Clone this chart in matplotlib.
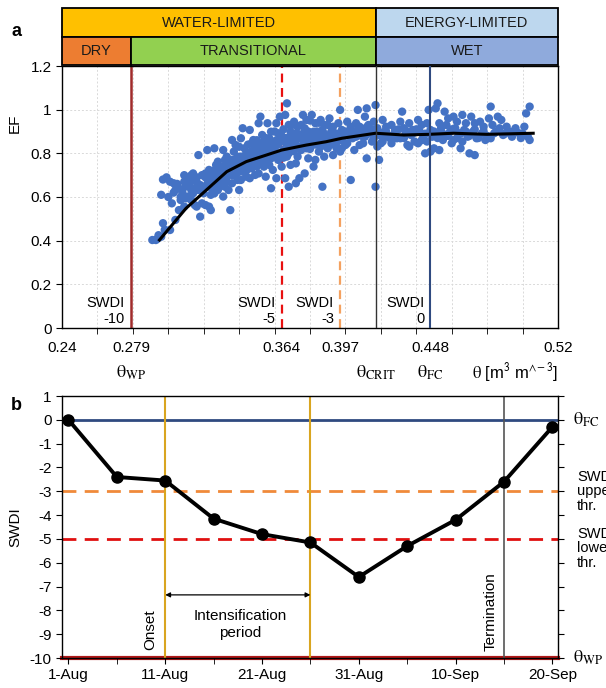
import matplotlib
matplotlib.use("Agg")
import matplotlib.pyplot as plt
import matplotlib.transforms as mtransforms
from matplotlib.patches import Rectangle
import numpy as np
import pandas as pd

plt.rcParams['font.family'] = ['Liberation Sans', 'DejaVu Sans']
plt.rcParams['mathtext.fontset'] = 'stix'

# ---------------- data: panel a ----------------
theta_pts = [
    0.291, 0.293, 0.294, 0.2945,
    0.296, 0.297, 0.298, 0.296, 0.297, 0.299,
    0.301, 0.303, 0.302, 0.304, 0.301, 0.304,
    0.306, 0.308, 0.307, 0.309, 0.306, 0.309, 0.308, 0.310,
    0.311, 0.312, 0.313, 0.314, 0.311, 0.313, 0.315, 0.314, 0.312,
    0.317, 0.316, 0.318, 0.319, 0.317, 0.320, 0.316, 0.318, 0.319,
    0.322, 0.321, 0.323, 0.324, 0.322, 0.325, 0.321, 0.323, 0.324,
    0.326, 0.328, 0.327, 0.329, 0.326, 0.330, 0.327, 0.329, 0.328, 0.326,
    0.331, 0.333, 0.332, 0.334, 0.331, 0.335, 0.333, 0.332, 0.334, 0.331, 0.335,
    0.336, 0.338, 0.337, 0.339, 0.336, 0.340, 0.338, 0.337, 0.339, 0.336, 0.340,
    0.342, 0.341, 0.343, 0.344, 0.341, 0.345, 0.343, 0.342, 0.344, 0.341,
    0.346, 0.348, 0.347, 0.349, 0.346, 0.350, 0.348, 0.347, 0.349, 0.346,
    0.352, 0.351, 0.353, 0.354, 0.351, 0.355, 0.353, 0.352, 0.354, 0.351, 0.355,
    0.356, 0.358, 0.357, 0.359, 0.356, 0.360, 0.358, 0.357, 0.359, 0.358,
    0.361, 0.363, 0.362, 0.364, 0.361, 0.365, 0.363, 0.362, 0.364, 0.361,
    0.367, 0.366, 0.368, 0.369, 0.366, 0.370, 0.368, 0.367, 0.369, 0.366, 0.368,
    0.371, 0.373, 0.372, 0.374, 0.371, 0.375, 0.373, 0.372, 0.374, 0.372,
    0.376, 0.378, 0.377, 0.379, 0.376, 0.380, 0.378, 0.377, 0.379,
    0.381, 0.383, 0.382, 0.384, 0.381, 0.385, 0.383, 0.382,
    0.386, 0.388, 0.387, 0.389, 0.386, 0.390, 0.388, 0.387,
    0.391, 0.393, 0.392, 0.394, 0.391, 0.395, 0.393,
    0.397, 0.396, 0.398, 0.399, 0.396, 0.400, 0.398, 0.397,
    0.401, 0.403, 0.402, 0.404, 0.401, 0.405, 0.403,
    0.407, 0.406, 0.408, 0.409, 0.406, 0.410, 0.408,
    0.412, 0.411, 0.413, 0.414, 0.411, 0.415, 0.412,
    0.417, 0.416, 0.418, 0.419, 0.416, 0.420, 0.418, 0.419, 0.417,
    0.421, 0.423, 0.422, 0.424, 0.421,
    0.426, 0.428, 0.427, 0.429, 0.426,
    0.432, 0.431, 0.433, 0.434, 0.431, 0.435,
    0.436, 0.438, 0.437, 0.439, 0.436,
    0.441, 0.443, 0.442, 0.444, 0.441, 0.445,
    0.447, 0.446, 0.448, 0.449, 0.446, 0.450, 0.448,
    0.452, 0.451, 0.453, 0.454, 0.451, 0.455, 0.453,
    0.456, 0.458, 0.457, 0.459, 0.456, 0.460,
    0.461, 0.463, 0.462, 0.464, 0.461, 0.465,
    0.466, 0.468, 0.467, 0.469, 0.466, 0.470,
    0.471, 0.473, 0.472, 0.474, 0.473,
    0.476, 0.478, 0.477, 0.479,
    0.482, 0.481, 0.483, 0.484, 0.482,
    0.486, 0.488, 0.487, 0.489,
    0.491, 0.493, 0.494,
    0.496, 0.498,
    0.502, 0.504, 0.501, 0.503, 0.504,
]
ef_pts = [
    0.403, 0.403, 0.410, 0.425,
    0.418, 0.480, 0.450, 0.610, 0.680, 0.690,
    0.670, 0.663, 0.571, 0.632, 0.449, 0.495,
    0.640, 0.632, 0.586, 0.556, 0.540, 0.700, 0.617, 0.594,
    0.670, 0.647, 0.632, 0.617, 0.602, 0.586, 0.563, 0.708, 0.686,
    0.792, 0.670, 0.655, 0.640, 0.632, 0.617, 0.556, 0.510, 0.571,
    0.815, 0.708, 0.724, 0.678, 0.647, 0.632, 0.563, 0.556, 0.540,
    0.823, 0.762, 0.747, 0.724, 0.701, 0.693, 0.670, 0.647, 0.632, 0.617,
    0.815, 0.785, 0.770, 0.754, 0.739, 0.716, 0.693, 0.647, 0.632, 0.602, 0.540,
    0.861, 0.838, 0.808, 0.785, 0.770, 0.754, 0.724, 0.701, 0.678, 0.663, 0.632,
    0.915, 0.869, 0.823, 0.800, 0.785, 0.762, 0.739, 0.716, 0.693, 0.678,
    0.907, 0.861, 0.846, 0.823, 0.800, 0.777, 0.754, 0.731, 0.701, 0.686,
    0.968, 0.938, 0.884, 0.854, 0.831, 0.808, 0.785, 0.762, 0.739, 0.708, 0.693,
    0.938, 0.899, 0.869, 0.846, 0.823, 0.800, 0.777, 0.747, 0.724, 0.640,
    0.938, 0.968, 0.892, 0.861, 0.838, 0.815, 0.792, 0.770, 0.739, 0.686,
    1.029, 0.976, 0.930, 0.899, 0.869, 0.846, 0.823, 0.785, 0.747, 0.686, 0.647,
    0.945, 0.922, 0.892, 0.869, 0.846, 0.815, 0.785, 0.754, 0.686, 0.663,
    0.976, 0.953, 0.915, 0.876, 0.861, 0.838, 0.823, 0.708, 0.777,
    0.976, 0.938, 0.899, 0.869, 0.838, 0.808, 0.770, 0.739,
    0.953, 0.930, 0.907, 0.876, 0.854, 0.823, 0.785, 0.647,
    0.960, 0.922, 0.899, 0.876, 0.846, 0.823, 0.792,
    0.999, 0.938, 0.907, 0.884, 0.861, 0.838, 0.823, 0.808,
    0.945, 0.922, 0.892, 0.869, 0.846, 0.815, 0.678,
    0.999, 0.938, 0.922, 0.899, 0.876, 0.846, 0.838,
    1.006, 0.968, 0.930, 0.907, 0.876, 0.854, 0.777,
    1.021, 0.945, 0.915, 0.892, 0.869, 0.846, 0.831, 0.770, 0.647,
    0.953, 0.922, 0.899, 0.876, 0.854,
    0.930, 0.907, 0.884, 0.869, 0.846,
    0.991, 0.945, 0.915, 0.892, 0.869, 0.838,
    0.938, 0.907, 0.884, 0.854, 0.831,
    0.953, 0.930, 0.899, 0.876, 0.846, 0.800,
    0.999, 0.938, 0.907, 0.876, 0.854, 0.823, 0.808,
    1.029, 1.006, 0.938, 0.915, 0.892, 0.861, 0.815,
    0.991, 0.960, 0.930, 0.899, 0.876, 0.846,
    0.968, 0.945, 0.915, 0.892, 0.861, 0.823,
    0.976, 0.938, 0.907, 0.876, 0.854, 0.800,
    0.968, 0.938, 0.899, 0.869, 0.792,
    0.945, 0.922, 0.892, 0.861,
    1.014, 0.960, 0.930, 0.892, 0.869,
    0.968, 0.953, 0.915, 0.884,
    0.922, 0.899, 0.876,
    0.915, 0.892,
    0.983, 1.014, 0.922, 0.876, 0.861,
]
# extra points read from the densest part of the cloud
theta_pts_dense = [
    0.319, 0.321, 0.324, 0.326, 0.327, 0.329, 0.331, 0.332, 0.334, 0.335,
    0.337, 0.338, 0.339, 0.340, 0.342, 0.343, 0.345, 0.346, 0.347, 0.349,
    0.350, 0.351, 0.352, 0.353, 0.354, 0.356, 0.357, 0.358, 0.360, 0.361,
    0.362, 0.364, 0.366, 0.367, 0.369, 0.370, 0.372, 0.373, 0.375, 0.376,
    0.378, 0.379, 0.381, 0.382, 0.384, 0.385, 0.387, 0.388, 0.390, 0.392,
    0.393, 0.395, 0.396, 0.398, 0.400, 0.402, 0.404, 0.405, 0.407, 0.409,
    0.410, 0.412, 0.413, 0.415, 0.418, 0.420, 0.423, 0.425, 0.428, 0.430,
    0.433, 0.435, 0.438, 0.440, 0.443, 0.445, 0.450, 0.452, 0.455, 0.458,
    0.460, 0.463, 0.465, 0.468, 0.470, 0.473, 0.475, 0.478, 0.480, 0.485,
    0.490, 0.495, 0.500, 0.499,
    0.300, 0.303, 0.305, 0.307, 0.310, 0.312, 0.314, 0.315, 0.316, 0.313,
    0.309, 0.322, 0.324, 0.327, 0.330, 0.333, 0.336, 0.339, 0.341, 0.344,
    0.347, 0.350, 0.353, 0.356, 0.359, 0.362, 0.365, 0.368, 0.371, 0.374,
    0.377, 0.380, 0.383, 0.386, 0.389, 0.392, 0.395, 0.340, 0.345, 0.350,
    0.355, 0.360, 0.365, 0.370, 0.375, 0.380, 0.385, 0.390,
]
ef_pts_dense = [
    0.70, 0.69, 0.70, 0.72, 0.73, 0.70, 0.72, 0.73, 0.74, 0.76,
    0.75, 0.77, 0.74, 0.78, 0.76, 0.78, 0.79, 0.77, 0.81, 0.79,
    0.80, 0.82, 0.80, 0.83, 0.81, 0.84, 0.82, 0.85, 0.83, 0.86,
    0.84, 0.88, 0.85, 0.87, 0.86, 0.88, 0.86, 0.89, 0.87, 0.89,
    0.86, 0.90, 0.88, 0.86, 0.90, 0.88, 0.87, 0.89, 0.86, 0.88,
    0.90, 0.87, 0.89, 0.86, 0.90, 0.88, 0.90, 0.88, 0.91, 0.88,
    0.90, 0.92, 0.89, 0.91, 0.90, 0.88, 0.90, 0.87, 0.89, 0.91,
    0.87, 0.90, 0.89, 0.91, 0.86, 0.89, 0.90, 0.87, 0.89, 0.88,
    0.91, 0.87, 0.89, 0.90, 0.88, 0.91, 0.87, 0.90, 0.88, 0.90,
    0.89, 0.90, 0.89, 0.87,
    0.60, 0.62, 0.66, 0.60, 0.65, 0.66, 0.68, 0.64, 0.69, 0.70,
    0.67, 0.66, 0.61, 0.64, 0.66, 0.67, 0.70, 0.71, 0.73, 0.72,
    0.75, 0.74, 0.76, 0.77, 0.79, 0.80, 0.78, 0.80, 0.81, 0.83,
    0.84, 0.82, 0.84, 0.83, 0.85, 0.84, 0.85, 0.83, 0.84, 0.86,
    0.87, 0.90, 0.91, 0.93, 0.93, 0.95, 0.94, 0.93,
]
curve_theta = [0.295, 0.310, 0.333, 0.344, 0.364, 0.378, 0.389, 0.398,
               0.417, 0.433, 0.447, 0.461, 0.480, 0.506]
curve_ef = [0.403, 0.548, 0.716, 0.762, 0.815, 0.838, 0.853, 0.869,
            0.892, 0.884, 0.887, 0.892, 0.887, 0.892]

theta_wp = 0.279
theta_swdi5 = 0.364
theta_swdi3 = 0.397
theta_crit = 0.417
theta_fc = 0.448
theta_ticks = [0.24, 0.279, 0.364, 0.397, 0.448, 0.52]

# ---------------- data: panel b ----------------
dates = ['2019-08-01', '2019-08-06', '2019-08-11', '2019-08-16', '2019-08-21',
         '2019-08-26', '2019-08-31', '2019-09-05', '2019-09-10', '2019-09-15',
         '2019-09-20']
swdi = [0.0, -2.4, -2.55, -4.15, -4.8, -5.15, -6.6, -5.3, -4.2, -2.6, -0.3]
onset_date = '2019-08-11'
intens_end_date = '2019-08-26'
termination_date = '2019-09-15'
date_labels = ['1-Aug', '11-Aug', '21-Aug', '31-Aug', '10-Sep', '20-Sep']
label_dates = ['2019-08-01', '2019-08-11', '2019-08-21', '2019-08-31',
               '2019-09-10', '2019-09-20']

# ---------------- figure ----------------
fig = plt.figure(figsize=(6.06, 6.88), dpi=100)
W, H = 606, 688

def ax_rect(l, t, r, b):
    return [l / W, 1 - b / H, (r - l) / W, (b - t) / H]

ax1 = fig.add_axes(ax_rect(62, 66, 558, 328))
ax1.set_xlim(0.24, 0.52)
ax1.set_ylim(0, 1.2)

for gx in np.arange(0.26, 0.52, 0.02):
    ax1.axvline(gx, color='#d9d9d9', lw=0.7, ls=(0, (2, 2)), zorder=0)
for gy in np.arange(0.2, 1.2, 0.2):
    ax1.axhline(gy, color='#d9d9d9', lw=0.7, ls=(0, (2, 2)), zorder=0)

ax1.scatter(theta_pts + theta_pts_dense, ef_pts + ef_pts_dense, s=36,
            color='#4472C4', edgecolors='none', zorder=2)
ax1.plot(curve_theta, curve_ef, color='black', lw=2.2, zorder=3)

ax1.axvline(theta_wp, color='#A02B2B', lw=1.8, zorder=1)
ax1.axvline(theta_swdi5, color='#E81010', lw=1.6, ls=(0, (4, 2.5)), zorder=1)
ax1.axvline(theta_swdi3, color='#F4A15F', lw=1.6, ls=(0, (4, 2.5)), zorder=1)
ax1.axvline(theta_crit, color='#333333', lw=1.0, zorder=4)
ax1.axvline(theta_fc, color='#2F4A80', lw=1.5, zorder=4)

ax1.set_xticks(theta_ticks)
ax1.set_xticklabels(['0.24', '0.279', '0.364', '0.397', '0.448', '0.52'])
ax1.set_xticks(np.arange(0.24, 0.521, 0.02), minor=True)
ax1.tick_params(axis='x', which='major', length=0, labelsize=11, pad=9)
ax1.tick_params(axis='x', which='minor', length=4, direction='out')
ax1.set_yticks(np.arange(0, 1.21, 0.2))
ax1.set_yticklabels(['0', '0.2', '0.4', '0.6', '0.8', '1', '1.2'])
ax1.tick_params(axis='y', length=4, direction='out', labelsize=11)
for sp in ax1.spines.values():
    sp.set_linewidth(1.0)

# header boxes
trans = mtransforms.blended_transform_factory(ax1.transData, ax1.transAxes)
r1_b, r1_t = 1.111, 1.221
r2_b, r2_t = 1.004, 1.111
boxes = [
    (0.24, theta_crit, r1_b, r1_t, '#FFC000', 'WATER-LIMITED'),
    (theta_crit, 0.52, r1_b, r1_t, '#BDD7EE', 'ENERGY-LIMITED'),
    (0.24, theta_wp, r2_b, r2_t, '#ED7D31', 'DRY'),
    (theta_wp, theta_crit, r2_b, r2_t, '#92D050', 'TRANSITIONAL'),
    (theta_crit, 0.52, r2_b, r2_t, '#8FAADC', 'WET'),
]
for x0, x1, y0, y1, c, lab in boxes:
    ax1.add_patch(Rectangle((x0, y0), x1 - x0, y1 - y0, transform=trans,
                            facecolor=c, edgecolor='black', lw=1.3, clip_on=False))
    ax1.text((x0 + x1) / 2, (y0 + y1) / 2, lab, transform=trans, ha='center',
             va='center', fontsize=10.5, color='#1a1a1a')

for th, lab in [(theta_wp, 'SWDI\n-10'), (theta_swdi5, 'SWDI\n-5'),
                (theta_swdi3, 'SWDI\n-3'), (theta_fc, 'SWDI\n0')]:
    ax1.text(th - 0.0035, 0.078, lab, ha='right', va='center', fontsize=10.5,
             linespacing=1.15, multialignment='right')

ax1.text(theta_wp, -0.205, r'$\mathrm{\theta}_{\mathrm{WP}}$', ha='center', va='center', fontsize=13)
ax1.text(theta_crit, -0.205, r'$\mathrm{\theta}_{\mathrm{CRIT}}$', ha='center', va='center', fontsize=13)
ax1.text(theta_fc, -0.205, r'$\mathrm{\theta}_{\mathrm{FC}}$', ha='center', va='center', fontsize=13)
ax1.text(0.496, -0.205, r'$\mathrm{\theta}$ [m$^{\mathsf{3}}$ m$^{\mathsf{\wedge\!-3}}$]',
         ha='center', va='center', fontsize=12)

fig.text(15 / W, 1 - 123 / H, 'EF', rotation=90, ha='center', va='center', fontsize=11)
fig.text(16 / W, 1 - 32 / H, 'a', ha='center', va='center', fontsize=13, fontweight='bold')

# ---------------- panel b ----------------
ax2 = fig.add_axes(ax_rect(62, 396, 558, 658))
d = pd.to_datetime(dates)
x0 = pd.Timestamp('2019-08-01') - pd.Timedelta(hours=16)
x1 = pd.Timestamp('2019-09-20') + pd.Timedelta(hours=14)
ax2.set_xlim(x0, x1)
ax2.set_ylim(-10, 1)

ax2.axhline(0, color='#2F4A80', lw=2.0, zorder=1)
ax2.axhline(-3, color='#F08A3A', lw=2.0, ls=(0, (5, 3)), zorder=1)
ax2.axhline(-5, color='#E01010', lw=2.0, ls=(0, (5, 3)), zorder=1)
ax2.axhline(-10, color='#B01818', lw=3.0, zorder=1, clip_on=False)

ax2.axvline(pd.Timestamp(onset_date), color='#D9A520', lw=1.5, zorder=1)
ax2.axvline(pd.Timestamp(intens_end_date), color='#D9A520', lw=1.5, zorder=1)
ax2.axvline(pd.Timestamp(termination_date), color='#555555', lw=1.2, zorder=1)

ax2.plot(d, swdi, color='black', lw=2.8, marker='o', markersize=8, zorder=3, clip_on=False)

ax2.annotate('', xy=(pd.Timestamp(onset_date), -7.35),
             xytext=(pd.Timestamp(intens_end_date), -7.35),
             arrowprops=dict(arrowstyle='<|-|>', color='black', lw=0.9,
                             mutation_scale=7, shrinkA=0, shrinkB=0))
ax2.text(pd.Timestamp('2019-08-18 18:00'), -8.6, 'Intensification\nperiod', ha='center',
         va='center', fontsize=11, linespacing=1.3)
ax2.text(pd.Timestamp('2019-08-09 12:00'), -8.8, 'Onset', rotation=90, ha='center',
         va='center', fontsize=11)
ax2.text(pd.Timestamp('2019-09-13 14:00'), -8.05, 'Termination', rotation=90,
         ha='center', va='center', fontsize=11)

ax2.set_xticks(pd.to_datetime(label_dates))
ax2.set_xticklabels(date_labels)
ax2.set_xticks(pd.to_datetime(dates), minor=True)
ax2.tick_params(axis='x', which='both', length=4, direction='out', labelsize=11)
ax2.set_yticks(np.arange(-10, 1.1, 1))
ax2.set_yticklabels([str(v) for v in range(-10, 2)])
ax2.tick_params(axis='y', length=4, direction='out', labelsize=11, right=True)
ax2.set_ylabel('SWDI', fontsize=11, labelpad=5)
for sp in ax2.spines.values():
    sp.set_linewidth(1.0)

tr2 = mtransforms.blended_transform_factory(fig.transFigure, ax2.transData)
ax2.text(573 / W, 0, r'$\mathrm{\theta}_{\mathrm{FC}}$', transform=tr2, ha='left', va='center', fontsize=13)
ax2.text(573 / W, -10, r'$\mathrm{\theta}_{\mathrm{WP}}$', transform=tr2, ha='left', va='center', fontsize=13)
ax2.text(577 / W, -3.0, 'SWDI\nupper\nthr.', transform=tr2, ha='left', va='center',
         fontsize=10.5, linespacing=1.05)
ax2.text(577 / W, -5.4, 'SWDI\nlower\nthr.', transform=tr2, ha='left', va='center',
         fontsize=10.5, linespacing=1.05)

fig.text(16 / W, 1 - 405 / H, 'b', ha='center', va='center', fontsize=13, fontweight='bold')

fig.savefig('out.png', dpi=100)
